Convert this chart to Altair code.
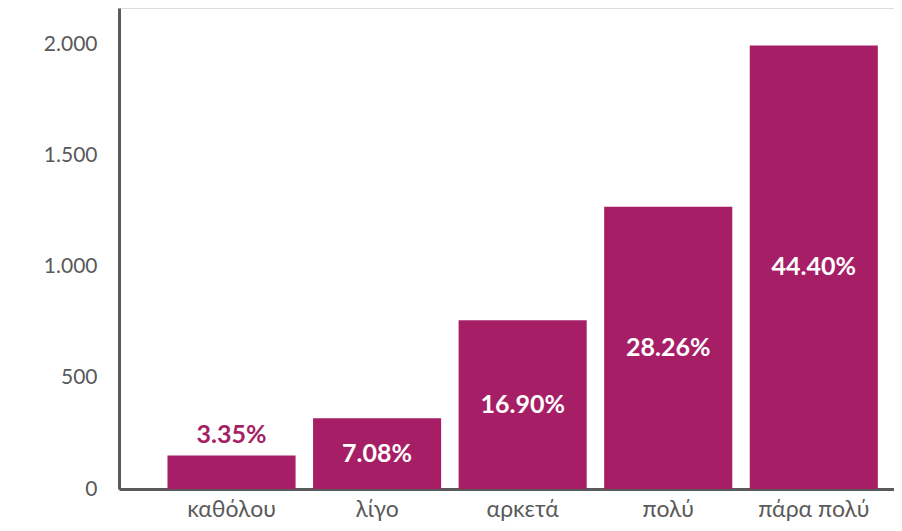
import altair as alt
import pandas as pd

categories = ["καθόλου", "λίγο", "αρκετά", "πολύ", "πάρα πολύ"]
counts = [151, 318, 760, 1270, 1996]
percents = ["3.35%", "7.08%", "16.90%", "28.26%", "44.40%"]
y_ticks = [0, 500, 1000, 1500, 2000]

df = pd.DataFrame({"cat": categories, "value": counts, "pct": percents})

BAR = "#A61F66"
GREY = "#5a5a5a"
FONT = "Lato"

x = alt.X("cat:N", sort=categories, title=None,
          scale=alt.Scale(paddingInner=0.12, paddingOuter=0.222, align=0.75),
          axis=alt.Axis(labelAngle=0, labelFontSize=23, labelColor=GREY,
                        labelFont=FONT, labelPadding=9, ticks=False,
                        domainColor=GREY, domainWidth=3))
y = alt.Y("value:Q", title=None,
          scale=alt.Scale(domain=[0, 2165], nice=False),
          axis=alt.Axis(values=y_ticks, grid=False, ticks=False,
                        labelFontSize=21, labelColor=GREY, labelFont=FONT,
                        labelPadding=22, domainColor=GREY, domainWidth=3,
                        labelExpr="replace(format(datum.value, ','), ',', '.')"))

base = alt.Chart(df)
bars = base.mark_bar(color=BAR).encode(x=x, y=y)

inside = base.transform_filter("datum.value >= 200").transform_calculate(
    mid="datum.value / 2"
).mark_text(color="white", fontSize=25, fontWeight="bold", font=FONT,
            baseline="middle").encode(
    x=alt.X("cat:N", sort=categories),
    y=alt.Y("mid:Q"),
    text="pct:N",
)

above = base.transform_filter("datum.value < 200").mark_text(
    color=BAR, fontSize=25, fontWeight="bold", font=FONT,
    baseline="alphabetic", dy=-12).encode(
    x=alt.X("cat:N", sort=categories),
    y=alt.Y("value:Q"),
    text="pct:N",
)

chart = alt.layer(bars, inside, above).properties(
    width=775, height=481,
    autosize=alt.AutoSizeParams(type="none"),
    padding={"left": 111, "top": 0, "right": 0, "bottom": 34},
).configure_view(strokeWidth=0).configure(background="white")

chart.save("out.html", embed_options={"renderer": "svg", "actions": False})
